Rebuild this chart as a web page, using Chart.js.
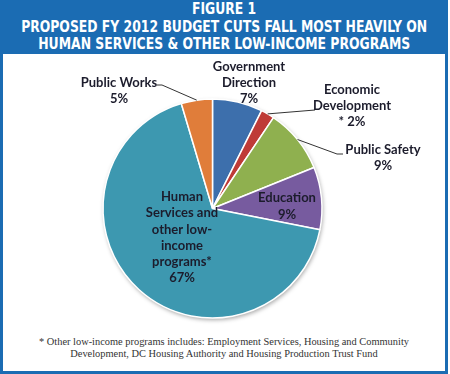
<!DOCTYPE html>
<html lang="en">
<head>
<meta charset="UTF-8">
<title>FY 2012 budget cuts</title>
<script src="https://cdn.jsdelivr.net/npm/chart.js@4.4.0/dist/chart.umd.min.js"></script>
<style>
  html, body { margin: 0; padding: 0; background: #fff; }
  #frame {
    position: absolute; left: 0; top: 0; width: 448px; height: 374px;
    box-sizing: border-box; border: 3px solid #1b6cb3; border-top: 0; background: #fff;
  }
  #banner {
    position: absolute; left: 0; top: 0; width: 448px; height: 54px; background: #1b6cb3;
    color: #fff; text-align: center; font-family: "DejaVu Sans Condensed", "Liberation Sans", sans-serif;
    font-weight: bold; font-size: 15px; line-height: 17.5px; padding-top: 1px; box-sizing: border-box;
  }
  #banner span { display: block; white-space: nowrap; margin: 0 auto; width: max-content; transform-origin: center; }
  #note {
    position: absolute; left: 0; top: 336px; width: 448px; text-align: center;
    font-family: "Liberation Serif", serif; font-size: 10.4px; line-height: 12px; color: #333;
  }
  #wrap { position: absolute; left: 0; top: 0; width: 450px; height: 374px; }
</style>
</head>
<body>
<div id="frame"></div>
<div id="banner"><span data-w="64">FIGURE 1</span><span data-w="406">PROPOSED FY 2012 BUDGET CUTS FALL MOST HEAVILY ON</span><span data-w="372">HUMAN SERVICES &amp; OTHER LOW-INCOME PROGRAMS</span></div>
<div id="note">* Other low-income programs includes: Employment Services, Housing and Community<br>Development, DC Housing Authority and Housing Production Trust Fund</div>
<div id="wrap"><canvas id="chart"></canvas></div>
<script>
// squeeze the title lines to the condensed widths of the original
document.querySelectorAll('#banner span').forEach(s => {
  const w = s.getBoundingClientRect().width;
  s.style.transform = 'scaleX(' + (Number(s.dataset.w) / w) + ')';
});

// share of proposed cuts, clockwise from 12 o'clock
const categories = ['Government Direction', 'Economic Development', 'Public Safety', 'Education',
                    'Human Services and other low-income programs', 'Public Works'];
const shares = [7.4, 2.0, 9.5, 9.2, 67.3, 4.6];
const shareLabels = ['7%', '* 2%', '9%', '9%', '67%', '5%'];
const labelLines = [
  ['Government', 'Direction'],
  ['Economic', 'Development'],
  ['Public Safety'],
  ['Education'],
  ['Human', 'Services and', 'other low-', 'income', 'programs*'],
  ['Public Works']
];
const colors = ['#3d6fac', '#bf3b37', '#8fb04f', '#775b9f', '#3d98b0', '#e07d3a'];

// label placement relative to pie centre; leader = bend points from slice edge
const place = [
  { dx: 36.5, dy: -141.5 },
  { dx: 139.5, dy: -118.5, leader: [[102.5, -98.5]] },
  { dx: 170.5, dy: -58.5, leader: [[124.5, -54.5], [130.5, -54.5]] },
  { dx: 74.5, dy: -10.5, lh: 16.5 },
  { dx: -30.5, dy: -11.5, lh: 16.2 },
  { dx: -93.5, dy: -125.5, leader: [[-50.5, -123.5], [-55.5, -123.5]] }
];

const shadow = {
  id: 'shadow',
  beforeDatasetsDraw(chart) {
    const arc = chart.getDatasetMeta(0).data[0];
    if (!arc) return;
    const ctx = chart.ctx;
    ctx.save();
    ctx.shadowColor = 'rgba(0,0,0,0.35)';
    ctx.shadowBlur = 4;
    ctx.shadowOffsetX = 1;
    ctx.shadowOffsetY = 2;
    ctx.fillStyle = '#fff';
    ctx.beginPath();
    ctx.arc(arc.x, arc.y, arc.outerRadius, 0, Math.PI * 2);
    ctx.fill();
    ctx.restore();
  }
};

const sliceLabels = {
  id: 'sliceLabels',
  afterDatasetsDraw(chart) {
    const ctx = chart.ctx;
    const arcs = chart.getDatasetMeta(0).data;
    ctx.save();
    ctx.font = 'bold 13px Lato, "Open Sans", sans-serif';
    ctx.fillStyle = '#1c1c2c';
    ctx.textAlign = 'center';
    ctx.textBaseline = 'middle';
    arcs.forEach((arc, i) => {
      const p = place[i];
      const cx = arc.x, cy = arc.y;
      if (p.leader) {
        const mid = (arc.startAngle + arc.endAngle) / 2;
        ctx.strokeStyle = '#333';
        ctx.lineWidth = 1;
        ctx.beginPath();
        ctx.moveTo(cx + Math.cos(mid) * arc.outerRadius, cy + Math.sin(mid) * arc.outerRadius);
        p.leader.forEach(pt => ctx.lineTo(cx + pt[0], cy + pt[1]));
        ctx.stroke();
      }
      const lh = p.lh || 16;
      const lines = labelLines[i].concat([shareLabels[i]]);
      lines.forEach((t, k) => ctx.fillText(t, cx + p.dx, cy + p.dy + k * lh));
    });
    ctx.restore();
  }
};

new Chart(document.getElementById('chart'), {
  type: 'pie',
  data: {
    labels: categories,
    datasets: [{
      data: shares,
      backgroundColor: colors,
      borderColor: '#fff',
      borderWidth: 1.5,
      hoverOffset: 0,
      radius: 109.5
    }]
  },
  options: {
    responsive: true,
    maintainAspectRatio: false,
    animation: false,
    events: [],
    layout: { padding: { left: 0, right: 25, top: 43, bottom: 0 } },
    plugins: { legend: { display: false }, tooltip: { enabled: false } }
  },
  plugins: [shadow, sliceLabels]
});
</script>
</body>
</html>
